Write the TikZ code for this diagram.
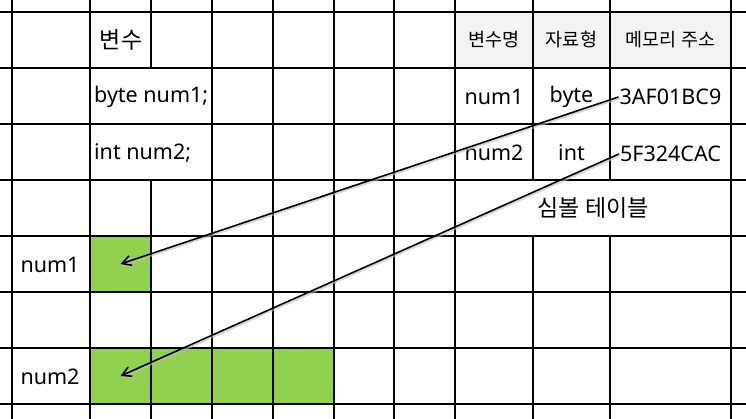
\documentclass[tikz,border=0pt]{standalone}
\usepackage{fontspec}
\setmainfont{Noto Sans}
\newfontfamily\kr{Noto Sans CJK KR}
\usetikzlibrary{arrows.meta}
\definecolor{cellgreen}{HTML}{92D050}
\definecolor{headgray}{HTML}{F2F2F2}
\begin{document}
\begin{tikzpicture}[x=1pt,y=-1pt,
  gridline/.style={line width=1.1pt,black},
  tblouter/.style={line width=2pt,black},
  tblinner/.style={line width=1.3pt,black},
  greencell/.style={fill=cellgreen,draw=none,minimum width=61pt,minimum height=56pt,inner sep=0pt},
  txt/.style={font=\fontsize{21.5}{25}\selectfont,inner sep=1pt},
  krtxt/.style={font=\kr\fontsize{23}{27}\selectfont,inner sep=1pt},
  headtxt/.style={font=\kr\fontsize{18.5}{22}\selectfont,inner sep=1pt},
  pointer/.style={line width=1.6pt,black,-{Straight Barb[length=9pt,width=10pt]}},
  pshadow/.style={line width=2pt,black!25,opacity=0.6,-{Straight Barb[length=9pt,width=10pt]}}
]
\useasboundingbox (0,0) rectangle (746,419);
\fill[white] (0,0) rectangle (746,419);
% fills
\fill[headgray] (455,12) rectangle (731,68);
\node[greencell] (g1) at (120.5,264) {};
\node[greencell] (g2a) at (120.5,376) {};
\node[greencell] (g2b) at (181.5,376) {};
\node[greencell] (g2c) at (242.5,376) {};
\node[greencell] (g2d) at (303.5,376) {};
% grid
\foreach \y in {12,68,124,180,236,292,348,404}
  \draw[gridline] (0,\y) -- (746,\y);
\foreach \x in {12,90,212,273,334,394,455,731}
  \draw[gridline] (\x,0) -- (\x,419);
\draw[gridline] (151,0) -- (151,68);
\draw[gridline] (151,180) -- (151,419);
\foreach \x in {533,610}{
  \draw[gridline] (\x,0) -- (\x,180);
  \draw[gridline] (\x,236) -- (\x,419);
}
% symbol table
\draw[tblinner] (455,68) -- (731,68);
\draw[tblinner] (455,124) -- (731,124);
\draw[tblinner] (533,12) -- (533,180);
\draw[tblinner] (610,12) -- (610,180);
\draw[tblouter] (455,12) rectangle (731,180);
% texts
\node[krtxt] (var) at (121,40) {변수};
\node[txt,anchor=west] (decl1) at (93,97) {byte num1;};
\node[txt,anchor=west] (decl2) at (93,153) {int num2;};
\node[txt] (lab1) at (50,265) {num1};
\node[txt] (lab2) at (50,377) {num2};
\node[headtxt] (h1) at (494,40) {변수명};
\node[headtxt] (h2) at (571.5,40) {자료형};
\node[headtxt] (h3) at (670.5,40) {메모리 주소};
\node[txt] (n1) at (494,97) {num1};
\node[txt] (t1) at (571.5,97) {byte};
\node[txt] (addr1) at (670.5,97) {3AF01BC9};
\node[txt] (n2) at (494,153) {num2};
\node[txt] (t2) at (571.5,153) {int};
\node[txt] (addr2) at (670.5,154) {5F324CAC};
\node[krtxt] (symtab) at (593,208) {심볼 테이블};
% pointers
\draw[pshadow,transform canvas={xshift=1.2pt,yshift=-1.5pt}] (addr1.west) -- (g1.center);
\draw[pshadow,transform canvas={xshift=1.2pt,yshift=-1.5pt}] (addr2.west) -- (g2a.center);
\draw[pointer] (addr1.west) -- (g1.center);
\draw[pointer] (addr2.west) -- (g2a.center);
\end{tikzpicture}
\end{document}
